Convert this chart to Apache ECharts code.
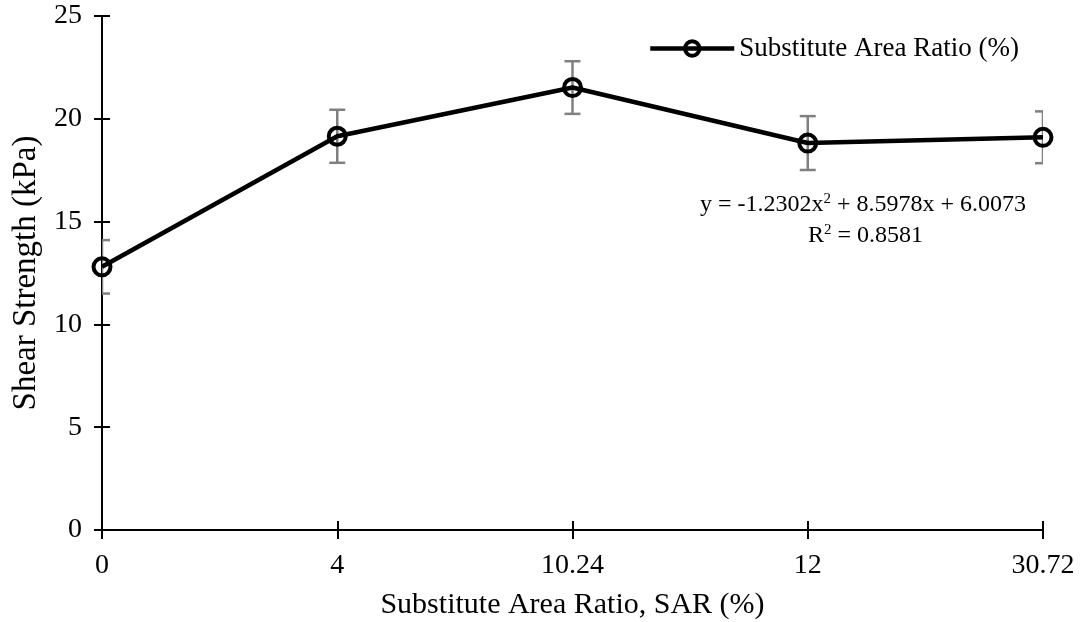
<!DOCTYPE html>
<html>
<head>
<meta charset="utf-8">
<script src="https://cdn.jsdelivr.net/npm/echarts@6/dist/echarts.min.js"></script>
<style>
html,body{margin:0;padding:0;background:#fff;}
#chart{width:1089px;height:622px;}
</style>
</head>
<body>
<div id="chart"></div>
<script>
const categories = ['0', '4', '10.24', '12', '30.72'];
const shearStrength = [12.8, 19.15, 21.52, 18.82, 19.1];
const errorHalf = [1.3, 1.29, 1.28, 1.31, 1.26];
const yTicks = [0, 5, 10, 15, 20, 25];
const seriesName = 'Substitute Area Ratio (%)';
const eqLine1 = 'y = -1.2302x{sup|2} + 8.5978x + 6.0073';
const eqLine2 = 'R{sup|2} = 0.8581';

const FONT = 'Liberation Serif';
const chart = echarts.init(document.getElementById('chart'));

const errData = shearStrength.map((v, i) => [i, v - errorHalf[i], v + errorHalf[i]]);

const grid = {left: 102, right: 46, top: 16, bottom: 92, outerBoundsMode: 'none', containLabel: false};

const option = {
  backgroundColor: '#fff',
  animation: false,
  grid: grid,
  legend: {
    data: [seriesName],
    left: 643,
    top: 30,
    itemWidth: 84,
    itemHeight: 18,
    textStyle: {fontFamily: FONT, fontSize: 27, color: '#000'},
    lineStyle: {color: '#000', width: 4.5},
    itemStyle: {color: 'rgba(255,255,255,0)', borderColor: '#000', borderWidth: 4}
  },
  xAxis: [{
    type: 'category',
    data: categories,
    boundaryGap: false,
    axisLine: {lineStyle: {color: '#000', width: 2}},
    axisTick: {show: true, inside: false, length: 9, lineStyle: {color: '#000', width: 2}},
    axisLabel: {fontFamily: FONT, fontSize: 28, color: '#000', margin: 22},
    name: 'Substitute Area Ratio, SAR (%)',
    nameLocation: 'middle',
    nameGap: 60,
    nameTextStyle: {fontFamily: FONT, fontSize: 30, color: '#000'},
    splitLine: {show: false}
  }, {
    type: 'category',
    data: categories,
    boundaryGap: false,
    position: 'bottom',
    axisLine: {show: false},
    axisTick: {show: true, inside: true, length: 9, lineStyle: {color: '#000', width: 2}},
    axisLabel: {show: false},
    splitLine: {show: false}
  }],
  yAxis: [{
    type: 'value',
    min: 0, max: 25, interval: 5,
    axisLine: {show: true, lineStyle: {color: '#000', width: 2}},
    axisTick: {show: true, inside: false, length: 8, lineStyle: {color: '#000', width: 2}},
    axisLabel: {fontFamily: FONT, fontSize: 28, color: '#000', margin: 20,
      formatter: v => yTicks.includes(v) ? String(v) : ''},
    splitLine: {show: false},
    name: 'Shear Strength (kPa)',
    nameLocation: 'middle',
    nameGap: 56,
    nameTextStyle: {fontFamily: FONT, fontSize: 33, color: '#000'}
  }, {
    type: 'value',
    min: 0, max: 25, interval: 5,
    position: 'left',
    axisLine: {show: false},
    axisTick: {show: true, inside: true, length: 8, lineStyle: {color: '#000', width: 2}},
    axisLabel: {show: false},
    splitLine: {show: false}
  }],
  series: [{
    type: 'custom',
    name: 'error',
    clip: true,
    z: 1,
    data: errData,
    renderItem: function (params, api) {
      const x = api.value(0);
      const lo = api.coord([x, api.value(1)]);
      const hi = api.coord([x, api.value(2)]);
      const hw = 8;
      const style = {stroke: '#808080', lineWidth: 2.5, fill: null};
      return {
        type: 'group',
        children: [
          {type: 'line', shape: {x1: lo[0], y1: lo[1], x2: hi[0], y2: hi[1]}, style: style},
          {type: 'line', shape: {x1: lo[0] - hw, y1: lo[1], x2: lo[0] + hw, y2: lo[1]}, style: style},
          {type: 'line', shape: {x1: hi[0] - hw, y1: hi[1], x2: hi[0] + hw, y2: hi[1]}, style: style}
        ]
      };
    }
  }, {
    type: 'line',
    name: seriesName,
    data: shearStrength,
    z: 3,
    symbol: 'circle',
    symbolSize: 17,
    lineStyle: {color: '#000', width: 4.5},
    itemStyle: {color: 'rgba(255,255,255,0)', borderColor: '#000', borderWidth: 4}
  }],
  graphic: [{
    type: 'text',
    left: 700,
    top: 192,
    style: {
      text: eqLine1,
      font: '24px "Liberation Serif"',
      fill: '#000',
      rich: {sup: {fontSize: 15, verticalAlign: 'top', padding: [0, 0, 11, 0], fontFamily: FONT, fill: '#000'}}
    }
  }, {
    type: 'text',
    left: 808,
    top: 223,
    style: {
      text: eqLine2,
      font: '24px "Liberation Serif"',
      fill: '#000',
      rich: {sup: {fontSize: 15, verticalAlign: 'top', padding: [0, 0, 11, 0], fontFamily: FONT, fill: '#000'}}
    }
  }]
};
chart.setOption(option);
</script>
</body>
</html>
